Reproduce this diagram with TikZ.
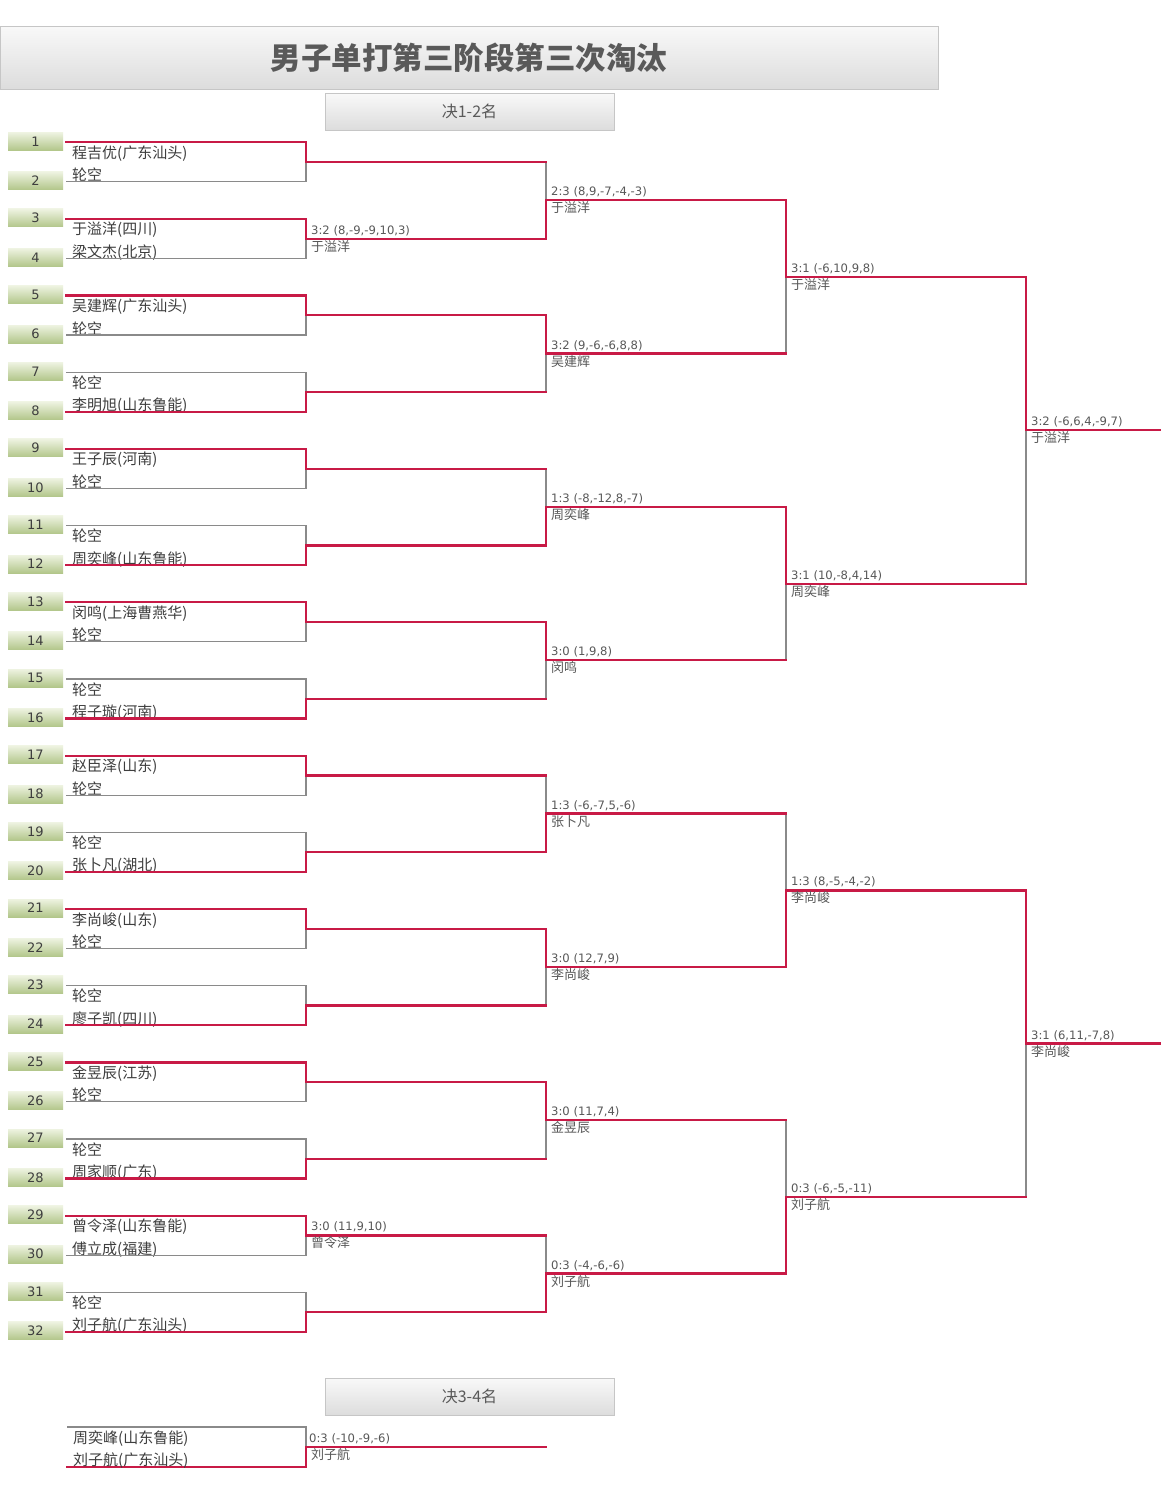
\documentclass[tikz,border=0pt]{standalone}
\usepackage{fontspec}
\usepackage{xcolor}
\newfontfamily\cjk{Noto Sans CJK SC}
\newfontfamily\lat{DejaVu Sans}
\definecolor{winred}{RGB}{200,26,70}
\definecolor{losegray}{RGB}{138,138,138}
\definecolor{txtgray}{RGB}{62,62,62}
\definecolor{scoregray}{RGB}{88,88,88}
\definecolor{seedtop}{RGB}{238,243,225}
\definecolor{seedbot}{RGB}{178,198,138}
\tikzset{
  win/.style={draw=winred, line width=2.3pt, line cap=rect},
  lose/.style={draw=losegray, line width=1.1pt},
  seedno/.style={minimum width=55pt, minimum height=18pt, inner sep=0pt,
    top color=seedtop, bottom color=seedbot, text=txtgray,
    font=\lat\fontsize{13}{13}\selectfont},
  player/.style={anchor=base west, inner sep=0pt, text=txtgray,
    font=\cjk\fontsize{15}{15}\selectfont},
  score/.style={anchor=base west, inner sep=0pt, text=scoregray,
    font=\lat\fontsize{11.6}{12}\selectfont},
  winner/.style={anchor=base west, inner sep=0pt, text=scoregray,
    font=\cjk\fontsize{13}{13}\selectfont},
  bar/.style={draw=gray!45, inner sep=0pt, top color=gray!5, bottom color=gray!27,
    text=black!65}
}

\begin{document}
\begin{tikzpicture}[x=1pt, y=-1pt]
\fill[white] (0,0) rectangle (1161,1489);
\useasboundingbox (0,0) rectangle (1161,1489);

\node[bar, minimum width=938pt, minimum height=63pt,
  font=\cjk\bfseries\fontsize{30.5}{31}\selectfont] (title) at (469,57.5) {男子单打第三阶段第三次淘汰};
\node[bar, minimum width=289pt, minimum height=37pt,
  font=\cjk\fontsize{16}{16}\selectfont] (sec12) at (469.5,111.5) {决1-2名};
\node[bar, minimum width=289pt, minimum height=37pt,
  font=\cjk\fontsize{16}{16}\selectfont] (sec34) at (469.5,1396.5) {决3-4名};

% seed slots
\foreach \i in {1,...,32}{
  \pgfmathsetmacro\yy{142.3+int((\i-1)/2)*76.67+mod(\i-1,2)*39.4}
  \coordinate (s\i) at (66,\yy);
  \node[seedno] (n\i) at (35.5,\yy-1) {\i};
}
\foreach \i/\nm in {1/程吉优(广东汕头), 2/轮空, 3/于溢洋(四川), 4/梁文杰(北京),
  5/吴建辉(广东汕头), 6/轮空, 7/轮空, 8/李明旭(山东鲁能),
  9/王子辰(河南), 10/轮空, 11/轮空, 12/周奕峰(山东鲁能),
  13/闵鸣(上海曹燕华), 14/轮空, 15/轮空, 16/程子璇(河南),
  17/赵臣泽(山东), 18/轮空, 19/轮空, 20/张卜凡(湖北),
  21/李尚峻(山东), 22/轮空, 23/轮空, 24/廖子凯(四川),
  25/金昱辰(江苏), 26/轮空, 27/轮空, 28/周家顺(广东),
  29/曾令泽(山东鲁能), 30/傅立成(福建), 31/轮空, 32/刘子航(广东汕头)}{
  \ifodd\i\relax
    \node[player] (p\i) at ([xshift=6pt, yshift=-16pt]s\i) {\nm};
  \else
    \node[player] (p\i) at ([xshift=6pt, yshift=1pt]s\i) {\nm};
  \fi
}

% match points of each round
\foreach \r/\xv/\ya/\dy/\n in {1/306/162/76.67/16, 2/546/200.3/153.33/8,
  3/786/277/306.67/4, 4/1026/430.3/613.33/2}
  \foreach \k in {1,...,\n}
    \coordinate (m\r-\k) at (\xv,{\ya+(\k-1)*\dy});
\coordinate (edge) at (1161,0);

% first round
\foreach \k/\w/\l in {1/1/2, 2/3/4, 3/5/6, 4/8/7, 5/9/10, 6/12/11, 7/13/14, 8/16/15,
  9/17/18, 10/20/19, 11/21/22, 12/24/23, 13/25/26, 14/28/27, 15/29/30, 16/32/31}{
  \draw[lose] (s\l) -- (s\l -| m1-\k) -- (m1-\k);
  \draw[win] (s\w) -- (s\w -| m1-\k) -- (m1-\k);
}

% later rounds
\foreach \r/\p/\k/\w/\l in {2/1/1/2/1, 2/1/2/3/4, 2/1/3/6/5, 2/1/4/7/8,
  2/1/5/10/9, 2/1/6/11/12, 2/1/7/13/14, 2/1/8/16/15,
  3/2/1/1/2, 3/2/2/3/4, 3/2/3/6/5, 3/2/4/8/7,
  4/3/1/1/2, 4/3/2/3/4}{
  \draw[lose] (m\p-\l -| m\r-\k) -- (m\r-\k);
  \draw[win] (m\p-\l) -- (m\p-\l -| m\r-\k);
  \draw[win] (m\p-\w) -- (m\p-\w -| m\r-\k) -- (m\r-\k);
}
\foreach \k in {1,2}
  \draw[win] (m4-\k) -- (m4-\k -| edge);

% results
\foreach \r/\k/\sc/\wn in {1/2/{3:2 (8,-9,-9,10,3)}/于溢洋, 1/15/{3:0 (11,9,10)}/曾令泽,
  2/1/{2:3 (8,9,-7,-4,-3)}/于溢洋, 2/2/{3:2 (9,-6,-6,8,8)}/吴建辉,
  2/3/{1:3 (-8,-12,8,-7)}/周奕峰, 2/4/{3:0 (1,9,8)}/闵鸣,
  2/5/{1:3 (-6,-7,5,-6)}/张卜凡, 2/6/{3:0 (12,7,9)}/李尚峻,
  2/7/{3:0 (11,7,4)}/金昱辰, 2/8/{0:3 (-4,-6,-6)}/刘子航,
  3/1/{3:1 (-6,10,9,8)}/于溢洋, 3/2/{3:1 (10,-8,4,14)}/周奕峰,
  3/3/{1:3 (8,-5,-4,-2)}/李尚峻, 3/4/{0:3 (-6,-5,-11)}/刘子航,
  4/1/{3:2 (-6,6,4,-9,7)}/于溢洋, 4/2/{3:1 (6,11,-7,8)}/李尚峻}{
  \node[score] (sc\r-\k) at ([xshift=5pt, yshift=4.5pt]m\r-\k) {\sc};
  \node[winner] (wn\r-\k) at ([xshift=5pt, yshift=-12.5pt]m\r-\k) {\wn};
}

% third place
\coordinate (t1) at (67,1427);
\coordinate (t2) at (67,1466.7);
\coordinate (m5) at (306,1447);
\coordinate (f5) at (546,1447);
\draw[lose] (t1) -- (t1 -| m5) -- (m5);
\draw[win] (t2) -- (t2 -| m5) -- (m5) -- (f5);
\node[player] (p33) at ([xshift=6pt, yshift=-16pt]t1) {周奕峰(山东鲁能)};
\node[player] (p34) at ([xshift=6pt, yshift=1pt]t2) {刘子航(广东汕头)};
\node[score] (sc5) at ([xshift=3pt, yshift=4.5pt]m5) {0:3 (-10,-9,-6)};
\node[winner] (wn5) at ([xshift=5pt, yshift=-12.5pt]m5) {刘子航};
\end{tikzpicture}
\end{document}
